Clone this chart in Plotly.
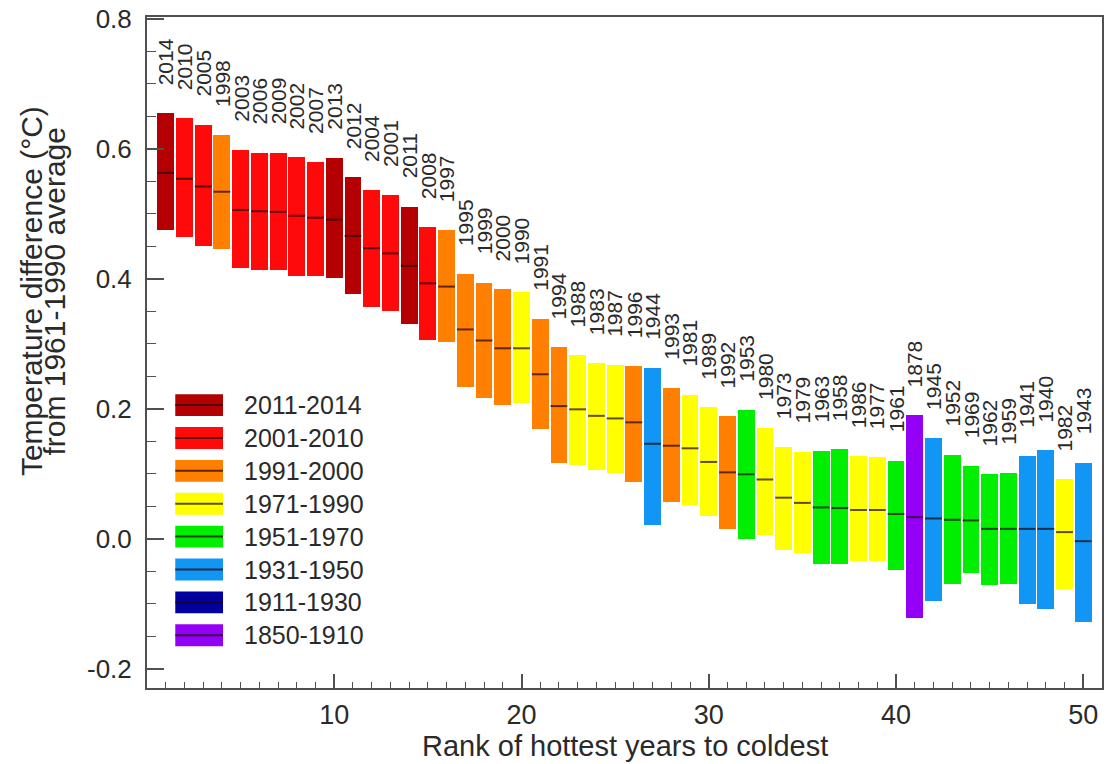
import plotly.graph_objects as go

# ---- data ----
ranks = list(range(1, 51))
years = [2014, 2010, 2005, 1998, 2003, 2006, 2009, 2002, 2007, 2013,
         2012, 2004, 2001, 2011, 2008, 1997, 1995, 1999, 2000, 1990,
         1991, 1994, 1988, 1983, 1987, 1996, 1944, 1993, 1981, 1989,
         1992, 1953, 1980, 1973, 1979, 1963, 1958, 1986, 1977, 1961,
         1878, 1945, 1952, 1969, 1962, 1959, 1941, 1940, 1982, 1943]
upper = [0.655, 0.647, 0.637, 0.622, 0.599, 0.594, 0.594, 0.587, 0.580, 0.586,
         0.557, 0.537, 0.529, 0.511, 0.480, 0.475, 0.407, 0.394, 0.384, 0.379,
         0.338, 0.295, 0.282, 0.270, 0.267, 0.266, 0.263, 0.232, 0.221, 0.202,
         0.188, 0.198, 0.171, 0.141, 0.134, 0.135, 0.138, 0.127, 0.125, 0.120,
         0.190, 0.155, 0.129, 0.112, 0.099, 0.101, 0.127, 0.136, 0.091, 0.117]
lower = [0.475, 0.464, 0.451, 0.446, 0.416, 0.414, 0.414, 0.404, 0.404, 0.401,
         0.376, 0.356, 0.351, 0.331, 0.305, 0.303, 0.233, 0.216, 0.206, 0.208,
         0.169, 0.117, 0.114, 0.105, 0.101, 0.087, 0.021, 0.057, 0.052, 0.035,
         0.015, 0.000, 0.005, -0.017, -0.022, -0.039, -0.039, -0.035, -0.035, -0.048,
         -0.122, -0.096, -0.070, -0.053, -0.072, -0.070, -0.100, -0.108, -0.077, -0.129]
median = [0.563, 0.554, 0.542, 0.534, 0.506, 0.504, 0.503, 0.497, 0.494, 0.491,
          0.466, 0.447, 0.439, 0.420, 0.393, 0.388, 0.322, 0.305, 0.293, 0.293,
          0.253, 0.204, 0.199, 0.189, 0.185, 0.179, 0.146, 0.143, 0.139, 0.118,
          0.102, 0.099, 0.091, 0.063, 0.055, 0.048, 0.047, 0.044, 0.044, 0.038,
          0.033, 0.031, 0.029, 0.028, 0.015, 0.015, 0.015, 0.015, 0.010, -0.004]

period_labels = ["2011-2014", "2001-2010", "1991-2000", "1971-1990",
                 "1951-1970", "1931-1950", "1911-1930", "1850-1910"]
period_starts = [2011, 2001, 1991, 1971, 1951, 1931, 1911, 1850]
period_colors = ["#b40000", "#ff0a0a", "#ff8000", "#ffff00",
                 "#00ee00", "#1296f5", "#0000a0", "#9400f5"]

x_range = [0, 51]
y_range = [-0.23, 0.803]
y_ticks = [-0.2, 0.0, 0.2, 0.4, 0.6, 0.8]
x_ticks = [10, 20, 30, 40, 50]


def period_color(yr):
    for start, col in zip(period_starts, period_colors):
        if yr >= start:
            return col
    return period_colors[-1]


bar_colors = [period_color(y) for y in years]
BAR_W = 0.9
TXT = "#2a2a2a"
AX = "#505050"
MED = "rgba(30,0,0,0.7)"
FONT = "Liberation Sans, Arial, Helvetica, sans-serif"

fig = go.Figure()

fig.add_trace(go.Bar(
    x=ranks,
    y=[u - l for u, l in zip(upper, lower)],
    base=lower,
    width=BAR_W,
    marker=dict(color=bar_colors, line=dict(width=0)),
    hoverinfo="skip",
    showlegend=False,
))

mx, my = [], []
for r, m in zip(ranks, median):
    mx += [r - BAR_W / 2, r + BAR_W / 2, None]
    my += [m, m, None]
fig.add_trace(go.Scatter(
    x=mx, y=my, mode="lines",
    line=dict(color=MED, width=2),
    hoverinfo="skip", showlegend=False,
))

# year labels above each bar
for r, u, yr in zip(ranks, upper, years):
    fig.add_annotation(
        x=r, y=u, xref="x", yref="y", text=str(yr), showarrow=False,
        textangle=-90, xanchor="center", yanchor="bottom", yshift=26,
        font=dict(size=21, color=TXT, family=FONT),
    )

# custom legend
x0p, x1p = 0.0296, 0.0796
ytop = 0.4216
step = 0.0490
hh = 0.0163
for i, (lab, col) in enumerate(zip(period_labels, period_colors)):
    yc = ytop - i * step
    fig.add_shape(type="rect", xref="paper", yref="paper",
                  x0=x0p, x1=x1p, y0=yc - hh, y1=yc + hh,
                  fillcolor=col, line=dict(width=0), layer="above")
    fig.add_shape(type="line", xref="paper", yref="paper",
                  x0=x0p, x1=x1p, y0=yc, y1=yc,
                  line=dict(color=MED, width=2), layer="above")
    fig.add_annotation(x=0.0995, y=yc, xref="paper", yref="paper",
                       text=lab, showarrow=False, xanchor="left", yanchor="middle",
                       font=dict(size=25, color=TXT, family=FONT))

# y-axis title (two lines)
fig.add_annotation(x=-0.1211, y=0.592, xref="paper", yref="paper",
                   text="Temperature difference (°C)", showarrow=False,
                   textangle=-90, xanchor="center", yanchor="middle",
                   font=dict(size=30, color=TXT, family=FONT))
fig.add_annotation(x=-0.0965, y=0.592, xref="paper", yref="paper",
                   text="from 1961-1990 average", showarrow=False,
                   textangle=-90, xanchor="center", yanchor="middle",
                   font=dict(size=30, color=TXT, family=FONT))
# x-axis title
fig.add_annotation(x=0.5, y=-0.087, xref="paper", yref="paper",
                   text="Rank of hottest years to coldest", showarrow=False,
                   xanchor="center", yanchor="middle",
                   font=dict(size=29, color=TXT, family=FONT))

# the page body adds an 8px offset, so the figure is 8px smaller
fig.update_layout(
    width=1105, height=756,
    margin=dict(l=139, r=11, t=9, b=76),
    paper_bgcolor="white", plot_bgcolor="white",
    font=dict(family=FONT, color=TXT),
    bargap=0,
)
common_x = dict(
    range=x_range, tickvals=x_ticks, ticks="inside", ticklen=14, tickwidth=1.5,
    tickcolor=AX,
    minor=dict(ticks="inside", dtick=1, tick0=0, ticklen=6, tickwidth=1.2, tickcolor=AX),
    showgrid=False, zeroline=False, automargin=False,
)
common_y = dict(
    range=y_range, tickvals=y_ticks, ticks="inside", ticklen=17, tickwidth=1.5,
    tickcolor=AX,
    minor=dict(ticks="inside", dtick=0.05, tick0=0, ticklen=9, tickwidth=1.2, tickcolor=AX),
    showgrid=False, zeroline=False, automargin=False,
)
fig.update_layout(
    xaxis=dict(**common_x, ticktext=[str(v) for v in x_ticks],
               showline=True, linecolor=AX, linewidth=2, mirror=True,
               tickfont=dict(size=27, color=TXT, family=FONT), ticklabelstandoff=2,
               ticklabeloverflow="allow"),
    yaxis=dict(**common_y, ticktext=[f"{v:.1f}" for v in y_ticks],
               showline=True, linecolor=AX, linewidth=2, mirror=True,
               tickfont=dict(size=26, color=TXT, family=FONT), ticklabelstandoff=8,
               ticklabeloverflow="allow"),
    xaxis2=dict(**common_x, overlaying="x", side="top", showticklabels=False,
                showline=False, anchor="y"),
    yaxis2=dict(**common_y, overlaying="y", side="right", showticklabels=False,
                showline=False, anchor="x"),
)

fig.write_html("out.html")
